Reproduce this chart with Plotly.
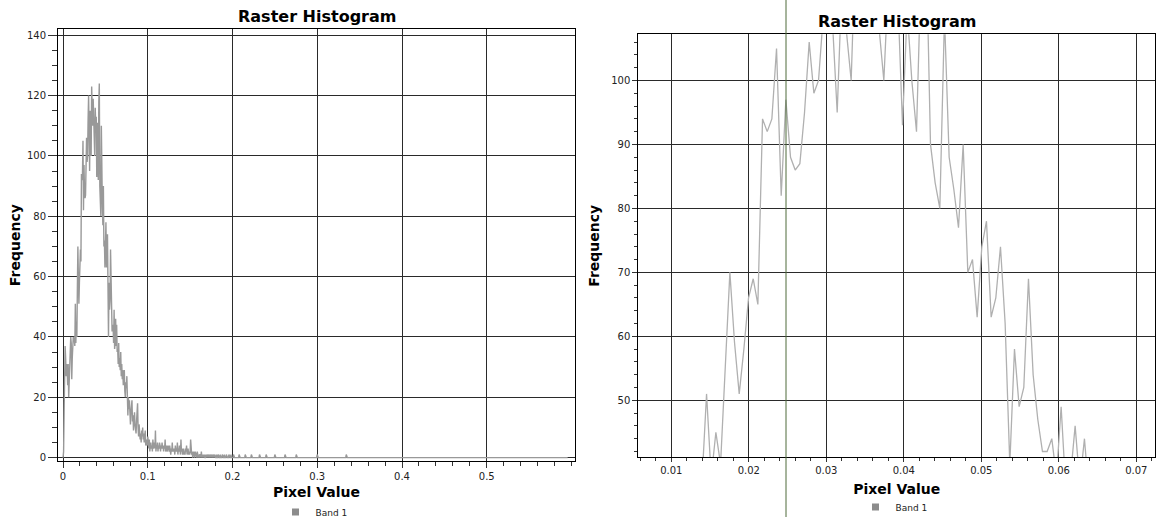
import plotly.graph_objects as go

# ---------------- data ----------------
bin_start = -0.0002          # left edge of first histogram bin
bin_width = 0.000602         # histogram bin width
n_bins = 990

# counts for the first bins
main_counts = [
    0, 2, 15, 30, 37, 33, 27, 31, 29, 24,
    31, 20, 27, 30, 34, 40, 38, 26, 33, 36,
    40, 39, 39, 37, 51, 38, 45, 40, 56, 70,
    59, 51, 58, 66, 69, 65, 94, 92, 94, 105,
    82, 97, 88, 86, 87, 95, 106, 98, 100, 112,
    120, 109, 95, 115, 108, 100, 123, 117, 110, 119,
    112, 108, 100, 116, 110, 113, 93, 111, 100, 92,
    118, 124, 90, 84, 80, 110, 88, 83, 77, 90,
    70, 72, 63, 74, 78, 63, 66, 74, 62, 40,
    58, 49, 52, 69, 54, 47, 42, 42, 44, 38,
    49, 36, 38, 46, 37, 44, 35,
    36, 31, 38, 30, 33, 29, 35, 27, 31, 26,
    29, 24, 27, 29, 22, 20, 25, 23, 27, 18,
    14, 20, 16, 19, 13, 11, 15, 17, 19, 12,
    14, 9, 13, 15, 11, 10, 8, 12, 14, 18,
    10, 7, 11, 9, 6, 8, 5, 9, 7, 10,
    6, 8, 5, 7, 9, 4, 5, 6, 4, 7,
    5, 3, 6, 2, 4, 5, 3, 4, 2, 6,
    3, 4, 5, 3, 9, 2, 4, 3, 5, 2,
    4, 3, 5, 4, 2, 4, 3, 5, 3, 4,
    2, 4, 3, 6, 2, 3, 4, 2, 3, 4,
    3, 2, 4, 3, 1, 3, 2, 5, 2, 3,
    2, 3, 1, 4, 2, 3, 2, 5, 1, 3,
    2, 4, 3, 1, 6, 2, 3, 1, 2, 3,
    1, 2, 1, 3, 2, 4, 1, 2, 3, 1,
    2, 1, 2, 6, 3, 1, 2, 0, 1, 2,
    1, 0, 2, 1, 1, 0, 2, 1, 0, 1,
    0, 1, 1, 0, 2, 0, 1, 0, 1, 0,
    1, 0, 0, 1, 0, 1, 0, 0, 1, 0,
    0, 1, 0, 0, 1, 0, 0, 1, 0, 0,
    1, 0, 0, 0, 1, 0, 0, 1, 0, 0,
    0, 1, 0, 0, 0, 1, 0, 0, 0, 1,
    0, 0, 0, 1, 0, 0, 0, 0, 1, 0,
    0, 0, 1, 0, 0, 0, 0, 1, 0, 0,
]
# sparse isolated counts in the far tail (bin index -> count)
tail_bins = [345, 357, 369, 385, 398, 415, 435, 457, 498, 555]
tail_counts = [1, 1, 1, 1, 1, 1, 1, 1, 1, 1]

cursor_value = 0.0248        # vertical marker on the zoomed panel

# tick settings
left_xticks = [0, 0.1, 0.2, 0.3, 0.4, 0.5]
left_yticks = [0, 20, 40, 60, 80, 100, 120, 140]
right_xticks = [0.01, 0.02, 0.03, 0.04, 0.05, 0.06, 0.07]
right_yticks = [50, 60, 70, 80, 90, 100]

# ---------------- build series ----------------
frequency = list(main_counts) + [0] * (n_bins - len(main_counts))
for b, c in zip(tail_bins, tail_counts):
    frequency[b] = c
pixel_values = [bin_start + (i + 0.5) * bin_width for i in range(n_bins)]

W, H = 1160, 517
def px_x(p):
    return p / W
def px_y(p):
    return 1 - p / H

FONT = "DejaVu Sans"
TICKCOL = "#222222"
GRIDCOL = "#2a2a2a"

fig = go.Figure()
fig.add_trace(go.Scatter(x=pixel_values, y=frequency, mode="lines",
                         line=dict(color="#999999", width=1.4),
                         xaxis="x", yaxis="y", showlegend=False, name="Band 1"))
fig.add_trace(go.Scatter(x=pixel_values, y=frequency, mode="lines",
                         line=dict(color="#b0b0b0", width=1.3),
                         xaxis="x2", yaxis="y2", showlegend=False, name="Band 1"))
# legend entries (square swatches)
fig.add_trace(go.Scatter(x=[None], y=[None], name="Band 1", mode="markers",
                         marker=dict(symbol="square", size=7, color="#8c8c8c"),
                         xaxis="x", yaxis="y", legend="legend"))
fig.add_trace(go.Scatter(x=[None], y=[None], name="Band 1", mode="markers",
                         marker=dict(symbol="square", size=7, color="#8c8c8c"),
                         xaxis="x2", yaxis="y2", legend="legend2"))

def axis_common():
    return dict(showline=True, linecolor="#000000", linewidth=1, mirror=True,
                showgrid=True, gridcolor=GRIDCOL, gridwidth=1, zeroline=False,
                ticks="outside", tickcolor="#333333", automargin=False,
                tickfont=dict(family=FONT, size=10, color=TICKCOL))

title_font = dict(family=FONT, size=14, color="#000000", weight="bold")

fig.update_layout(
    width=W, height=H, margin=dict(l=0, r=0, t=0, b=0, autoexpand=False),
    paper_bgcolor="white", plot_bgcolor="white",
    xaxis=dict(**axis_common(), domain=[px_x(58), px_x(575)], range=[-0.0059, 0.6041],
               tickvals=left_xticks, ticklen=6,
               minor=dict(dtick=0.02, ticks="outside", ticklen=4, tickcolor="#333333", showgrid=False),
               title=dict(text="Pixel Value", font=title_font, standoff=6), anchor="y"),
    yaxis=dict(**axis_common(), domain=[px_y(461), px_y(29.3)], range=[-1.13, 141.99],
               tickvals=left_yticks, ticklen=9,
               minor=dict(dtick=5, ticks="outside", ticklen=5, tickcolor="#333333", showgrid=False),
               title=dict(text="Frequency", font=title_font, standoff=2), anchor="x"),
    xaxis2=dict(**axis_common(), domain=[px_x(638.3), px_x(1155.3)], range=[0.005742, 0.072452],
                tickvals=right_xticks, ticklen=4,
                minor=dict(dtick=0.002, ticks="outside", ticklen=3, tickcolor="#333333", showgrid=False),
                title=dict(text="Pixel Value", font=title_font, standoff=8), anchor="y2"),
    yaxis2=dict(**axis_common(), domain=[px_y(457.3), px_y(34.3)], range=[41.09, 107.22],
                tickvals=right_yticks, ticklen=5,
                minor=dict(dtick=2, ticks="outside", ticklen=3, tickcolor="#333333", showgrid=False),
                title=dict(text="Frequency", font=title_font, standoff=8), anchor="x2"),
    legend=dict(x=px_x(314), y=px_y(512), xanchor="center", yanchor="middle",
                orientation="h", font=dict(family=FONT, size=9, color="#222222"),
                bgcolor="rgba(0,0,0,0)", itemwidth=30),
    legend2=dict(x=px_x(894), y=px_y(507), xanchor="center", yanchor="middle",
                 orientation="h", font=dict(family=FONT, size=9, color="#222222"),
                 bgcolor="rgba(0,0,0,0)", itemwidth=30),
    annotations=[
        dict(text="Raster Histogram", x=px_x(316.5), y=px_y(17), xref="paper", yref="paper",
             showarrow=False, xanchor="center", yanchor="middle",
             font=dict(family=FONT, size=16, color="#000000", weight="bold")),
        dict(text="Raster Histogram", x=px_x(896.5), y=px_y(21), xref="paper", yref="paper",
             showarrow=False, xanchor="center", yanchor="middle",
             font=dict(family=FONT, size=16, color="#000000", weight="bold")),
    ],
    shapes=[dict(type="line", xref="x2", yref="paper", x0=cursor_value, x1=cursor_value,
                 y0=-0.05, y1=1.05, line=dict(color="#4f6b3a", width=1))],
    showlegend=True,
)

fig.write_html("out.html")
